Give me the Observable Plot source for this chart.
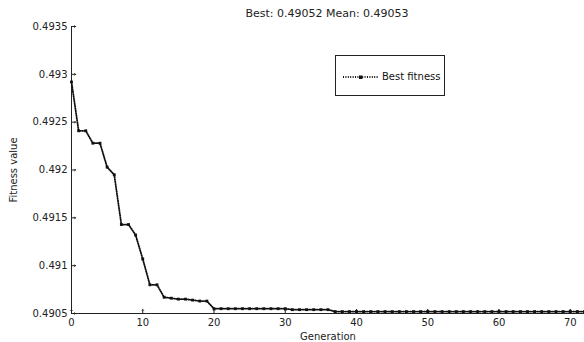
<!DOCTYPE html>
<html><head><meta charset="utf-8">
<script src="https://cdn.jsdelivr.net/npm/d3@7"></script>
<script src="https://cdn.jsdelivr.net/npm/@observablehq/plot@0.6"></script>
<style>
body{margin:0;background:#fff;font-family:"DejaVu Sans",sans-serif;}
#wrap{position:relative;width:584px;height:342px;overflow:hidden;}
#title{position:relative;height:20px;}
#title span{position:absolute;left:327px;top:8px;line-height:12px;transform:translateX(-50%);font-size:11px;color:#222;white-space:nowrap;}
#legend{position:absolute;left:335px;top:55px;width:108px;height:39px;border:1px solid #222;background:#fff;}
#legend svg{position:absolute;left:0;top:0;}
#legend span{position:absolute;left:46px;top:15px;line-height:12px;font-size:10px;color:#111;white-space:nowrap;}
</style></head>
<body>
<div id="wrap">
  <div id="title"><span></span></div>
  <div id="chart"></div>
  <div id="legend"><svg width="46" height="39"></svg><span></span></div>
</div>
<script>
const titleText = "Best: 0.49052 Mean: 0.49053";
const legendLabel = "Best fitness";
const xLabel = "Generation";
const yLabel = "Fitness value";
const xTicks = [0, 10, 20, 30, 40, 50, 60, 70];
const yTicks = [0.4905, 0.491, 0.4915, 0.492, 0.4925, 0.493, 0.4935];
const yTickLabels = ["0.4905", "0.491", "0.4915", "0.492", "0.4925", "0.493", "0.4935"];
const generation = [0,1,2,3,4,5,6,7,8,9,10,11,12,13,14,15,16,17,18,19,20,21,22,23,24,25,26,27,28,29,30,31,32,33,34,35,36,37,38,39,40,41,42,43,44,45,46,47,48,49,50,51,52,53,54,55,56,57,58,59,60,61,62,63,64,65,66,67,68,69,70,71,72];
const bestFitness = [
  0.49292, 0.49241, 0.49241, 0.49228, 0.49228, 0.49203, 0.49195, 0.49143, 0.49143, 0.49132,
  0.49107, 0.49080, 0.49080, 0.49067, 0.49066, 0.49065, 0.49065, 0.49064, 0.49063, 0.49063,
  0.49055, 0.49055, 0.49055, 0.49055, 0.49055, 0.49055, 0.49055, 0.49055, 0.49055, 0.49055,
  0.49055, 0.49054, 0.49054, 0.49054, 0.49054, 0.49054, 0.49054, 0.49052, 0.49052, 0.49052,
  0.49052, 0.49052, 0.49052, 0.49052, 0.49052, 0.49052, 0.49052, 0.49052, 0.49052, 0.49052,
  0.49052, 0.49052, 0.49052, 0.49052, 0.49052, 0.49052, 0.49052, 0.49052, 0.49052, 0.49052,
  0.49052, 0.49052, 0.49052, 0.49052, 0.49052, 0.49052, 0.49052, 0.49052, 0.49052, 0.49052,
  0.49052, 0.49052, 0.49052
];
const data = generation.map((g, i) => ({generation: g, fitness: bestFitness[i]}));

document.querySelector("#title span").textContent = titleText;
document.querySelector("#legend span").textContent = legendLabel;

const ink = "#111";
const yMin = yTicks[0];
const plot = Plot.plot({
  width: 584, height: 322,
  marginLeft: 71, marginRight: 0, marginTop: 6, marginBottom: 29,
  style: {fontFamily: "DejaVu Sans, sans-serif", fontSize: "10px", color: "#222", background: "white", overflow: "visible"},
  x: {domain: [0, 72]},
  y: {domain: [0.4905, 0.4935]},
  marks: [
    Plot.axisX({ticks: xTicks, tickSize: 0, tickPadding: 5, label: xLabel, labelAnchor: "center", labelArrow: "none", labelOffset: 26}),
    Plot.axisY({ticks: yTicks, tickFormat: (d) => yTickLabels[yTicks.indexOf(d)], tickSize: 0, tickPadding: 4, label: yLabel, labelAnchor: "center", labelArrow: "none", labelOffset: 62}),
    // inward tick marks
    Plot.vector(xTicks, {x: (d) => d, y: yMin, rotate: 0, length: 4, anchor: "start", stroke: "#222", strokeWidth: 1}),
    Plot.vector(yTicks, {x: 0, y: (d) => d, rotate: 90, length: 4, anchor: "start", stroke: "#222", strokeWidth: 1}),
    Plot.ruleX([0], {stroke: "#222"}),
    Plot.ruleY([yMin], {stroke: "#222"}),
    Plot.line(data, {x: "generation", y: "fitness", stroke: ink, strokeWidth: 1.8, strokeDasharray: "1,1.4"}),
    Plot.dot(data, {x: "generation", y: "fitness", symbol: "square", r: 1.6, fill: ink, stroke: "none"})
  ]
});
document.getElementById("chart").appendChild(plot);

// legend sample drawn with d3
const lg = d3.select("#legend svg");
lg.append("line").attr("x1", 7).attr("x2", 43).attr("y1", 21).attr("y2", 21)
  .attr("stroke", ink).attr("stroke-width", 1.8).attr("stroke-dasharray", "1,1.4");
lg.append("rect").attr("x", 23).attr("y", 19.5).attr("width", 3.5).attr("height", 3.5).attr("fill", ink);
</script>
</body></html>
